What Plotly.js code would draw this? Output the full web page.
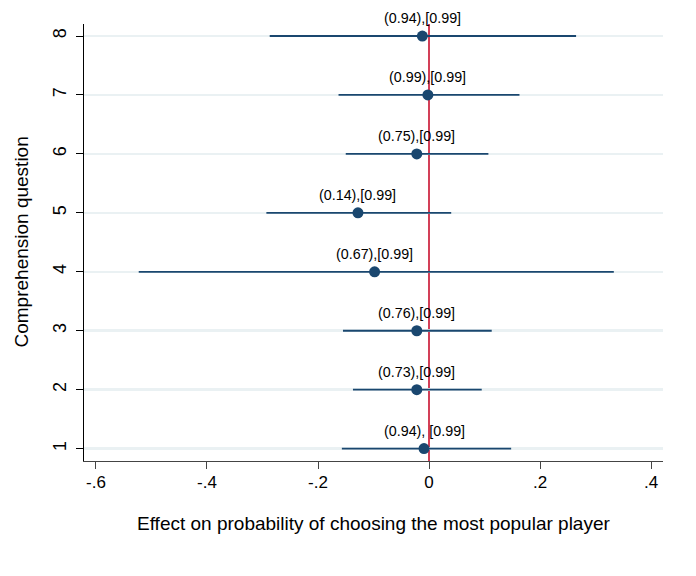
<!DOCTYPE html>
<html>
<head>
<meta charset="utf-8">
<script src="https://cdn.plot.ly/plotly-3.0.1.min.js"></script>
<style>html,body{margin:0;padding:0;background:#fff;}#chart{width:696px;height:576px;}</style>
</head>
<body>
<div id="chart"></div>
<script>
const questions = [1, 2, 3, 4, 5, 6, 7, 8];
const estimates = [-0.009, -0.022, -0.022, -0.098, -0.128, -0.022, -0.002, -0.012];
const ciLow = [-0.157, -0.137, -0.155, -0.523, -0.293, -0.150, -0.163, -0.287];
const ciHigh = [0.148, 0.095, 0.113, 0.333, 0.040, 0.107, 0.163, 0.265];
const labels = ["(0.94), [0.99]", "(0.73),[0.99]", "(0.76),[0.99]", "(0.67),[0.99]",
                "(0.14),[0.99]", "(0.75),[0.99]", "(0.99),[0.99]", "(0.94),[0.99]"];
const xTicks = [-0.6, -0.4, -0.2, 0, 0.2, 0.4];
const xTickText = ["-.6", "-.4", "-.2", "0", ".2", ".4"];
const xTitle = "Effect on probability of choosing the most popular player";
const yTitle = "Comprehension question";

const navy = "#1a476f";
const FONT = "Liberation Sans, Arial, sans-serif";
const trace = {
  type: "scatter",
  mode: "markers",
  x: estimates,
  y: questions,
  marker: {color: navy, size: 11},
  error_x: {
    type: "data",
    symmetric: false,
    array: estimates.map((e, i) => ciHigh[i] - e),
    arrayminus: estimates.map((e, i) => e - ciLow[i]),
    color: navy,
    thickness: 1.8,
    width: 0
  },
  hoverinfo: "skip"
};

const annotations = questions.map((q, i) => ({
  x: estimates[i], y: q, xref: "x", yref: "y",
  text: labels[i], showarrow: false, yshift: 18,
  font: {family: FONT, size: 14.3, color: "#000"}
}));
annotations.push({
  x: 0.5, y: -0.1427, xref: "paper", yref: "paper", xanchor: "center", yanchor: "middle",
  text: xTitle, showarrow: false, font: {family: FONT, size: 19, color: "#000"}
});
annotations.push({
  x: -0.1088, y: 0.5, xref: "paper", yref: "paper", xanchor: "center", yanchor: "middle",
  text: yTitle, textangle: -90, showarrow: false, font: {family: FONT, size: 19, color: "#000"}
});

const layout = {
  width: 696, height: 576,
  margin: {l: 84, r: 33, t: 24, b: 115},
  paper_bgcolor: "#fff", plot_bgcolor: "#fff",
  showlegend: false,
  font: {family: FONT, color: "#000"},
  xaxis: {
    range: [-0.6216, 0.4216],
    tickvals: xTicks, ticktext: xTickText,
    ticks: "outside", ticklen: 7, tickcolor: "#444", tickwidth: 1,
    showline: true, linecolor: "#444", linewidth: 1.2,
    showgrid: false, zeroline: false,
    ticklabelstandoff: -2,
    tickfont: {size: 17}
  },
  yaxis: {
    range: [0.79, 8.204],
    tickvals: questions,
    ticks: "outside", ticklen: 7, tickcolor: "#000", tickwidth: 1,
    showline: true, linecolor: "#000", linewidth: 1,
    showgrid: true, gridcolor: "#eaf1f3", gridwidth: 2.5,
    zeroline: false,
    tickangle: -90,
    ticklabelstandoff: 3,
    tickfont: {size: 18}
  },
  shapes: [{
    type: "line", xref: "x", yref: "paper", x0: 0, x1: 0, y0: 0, y1: 1,
    line: {color: "#c8102e", width: 1.6}, layer: "below"
  }],
  annotations: annotations
};

Plotly.newPlot("chart", [trace], layout, {displayModeBar: false, staticPlot: true});
</script>
</body>
</html>
